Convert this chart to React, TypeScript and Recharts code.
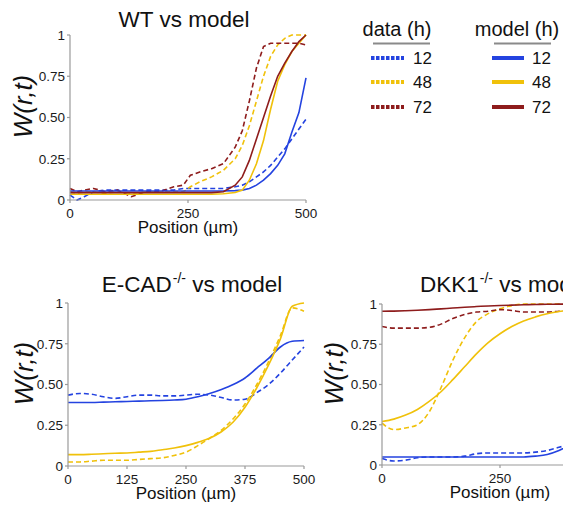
import { LineChart, Line, XAxis, YAxis } from "recharts";

const BLUE = "#2443e0";
const YELLOW = "#f0c10a";
const RED = "#8e1c1c";
const AXIS = "#9a9a9a";
const FONT = "'Liberation Sans', Arial, sans-serif";

const hours = ["12", "48", "72"];
const hourColors = [BLUE, YELLOW, RED];

// WT vs model
const wtPos = [0, 15, 30, 50, 75, 100, 130, 160, 190, 220, 240, 255, 275, 300, 325, 350, 365, 380, 395, 410, 425, 440, 455, 470, 485, 500];
const wtData12 = [0.03, 0.0, 0.02, 0.05, 0.06, 0.06, 0.06, 0.06, 0.06, 0.06, 0.07, 0.07, 0.07, 0.07, 0.07, 0.08, 0.09, 0.11, 0.14, 0.17, 0.21, 0.26, 0.31, 0.37, 0.43, 0.49];
const wtData48 = [0.05, 0.04, 0.05, 0.05, 0.04, 0.05, 0.04, 0.05, 0.05, 0.05, 0.05, 0.08, 0.11, 0.14, 0.18, 0.25, 0.33, 0.45, 0.6, 0.75, 0.87, 0.94, 0.98, 1.0, 1.0, 1.0];
const wtData72 = [0.07, 0.05, 0.06, 0.07, 0.05, 0.06, 0.02, 0.05, 0.05, 0.08, 0.09, 0.15, 0.17, 0.19, 0.22, 0.32, 0.42, 0.6, 0.8, 0.93, 0.95, 0.95, 0.95, 0.95, 0.95, 0.94];
const wtModel12 = [0.055, 0.055, 0.055, 0.055, 0.055, 0.055, 0.055, 0.055, 0.055, 0.055, 0.055, 0.055, 0.055, 0.055, 0.055, 0.057, 0.06, 0.07, 0.09, 0.12, 0.16, 0.21, 0.28, 0.41, 0.53, 0.74];
const wtModel48 = [0.035, 0.035, 0.035, 0.035, 0.035, 0.035, 0.035, 0.035, 0.035, 0.035, 0.035, 0.035, 0.035, 0.035, 0.038, 0.045, 0.06, 0.12, 0.22, 0.36, 0.55, 0.72, 0.82, 0.9, 0.95, 1.0];
const wtModel72 = [0.045, 0.045, 0.045, 0.045, 0.045, 0.045, 0.045, 0.045, 0.045, 0.045, 0.045, 0.045, 0.045, 0.045, 0.05, 0.09, 0.14, 0.24, 0.37, 0.5, 0.63, 0.75, 0.83, 0.9, 0.96, 1.0];

// E-CAD-/- vs model
const ecPos = [0, 25, 50, 75, 100, 125, 150, 175, 200, 225, 250, 275, 300, 325, 350, 375, 400, 425, 450, 475, 500];
const ecData12 = [0.435, 0.445, 0.44, 0.425, 0.415, 0.425, 0.435, 0.435, 0.43, 0.43, 0.435, 0.44, 0.435, 0.42, 0.405, 0.41, 0.45, 0.5, 0.57, 0.65, 0.73];
const ecData48 = [0.025, 0.025, 0.03, 0.035, 0.035, 0.035, 0.04, 0.045, 0.05, 0.065, 0.085, 0.125, 0.17, 0.22, 0.29, 0.38, 0.5, 0.64, 0.8, 0.97, 0.95];
const ecModel12 = [0.39, 0.39, 0.39, 0.392, 0.394, 0.396, 0.398, 0.4, 0.402, 0.405, 0.41, 0.425, 0.445, 0.47, 0.5, 0.54, 0.6, 0.66, 0.73, 0.765, 0.77];
const ecModel48 = [0.07, 0.07, 0.072, 0.075, 0.078, 0.08, 0.085, 0.09, 0.1, 0.11, 0.125, 0.145, 0.17, 0.21, 0.27, 0.36, 0.48, 0.62, 0.78, 0.98, 1.0];

// DKK1-/- vs model
const dkPos = [0, 25, 50, 75, 100, 125, 150, 175, 200, 225, 250, 275, 300, 325, 350, 375, 400, 450, 500];
const dkData12 = [0.04, 0.025, 0.03, 0.045, 0.05, 0.05, 0.05, 0.055, 0.07, 0.075, 0.075, 0.075, 0.075, 0.08, 0.09, 0.11, 0.13, 0.18, 0.25];
const dkData48 = [0.26, 0.22, 0.23, 0.25, 0.33, 0.48, 0.65, 0.79, 0.89, 0.94, 0.97, 0.99, 1.0, 1.0, 1.0, 1.0, 1.0, 1.0, 1.0];
const dkData72 = [0.86, 0.85, 0.85, 0.85, 0.855, 0.875, 0.91, 0.935, 0.95, 0.955, 0.965, 0.96, 0.95, 0.95, 0.95, 0.955, 0.96, 0.96, 0.96];
const dkModel12 = [0.05, 0.05, 0.05, 0.05, 0.05, 0.05, 0.05, 0.05, 0.05, 0.05, 0.05, 0.05, 0.05, 0.055, 0.065, 0.09, 0.125, 0.2, 0.3];
const dkModel48 = [0.27, 0.285, 0.31, 0.345, 0.395, 0.455, 0.53, 0.61, 0.69, 0.76, 0.815, 0.86, 0.895, 0.92, 0.94, 0.953, 0.963, 0.977, 0.987];
const dkModel72 = [0.955, 0.956, 0.958, 0.961, 0.965, 0.97, 0.975, 0.98, 0.984, 0.988, 0.991, 0.993, 0.995, 0.997, 0.998, 0.999, 1.0, 1.0, 1.0];

const yTicks = [0, 0.25, 0.5, 0.75, 1];

type Series = { key: string; values: number[]; color: string; dashed?: boolean };
type Plot = { left: number; right: number; top: number; bottom: number };

const fmtY = (v: number) => (v === 0 ? "0" : v === 1 ? "1" : v.toFixed(2));

function YLabel({ lx, ly }: any) {
  return (
    <text
      x={lx}
      y={ly}
      transform={`rotate(-90 ${lx} ${ly})`}
      textAnchor="middle"
      dominantBaseline="central"
      fontFamily={FONT}
      fontStyle="italic"
      fontSize={26}
      fill="#111"
    >
      W(r,t)
    </text>
  );
}

function XLabel({ lx, ly }: any) {
  return (
    <text x={lx} y={ly} textAnchor="middle" fontFamily={FONT} fontSize={17} fill="#111">
      Position (µm)
    </text>
  );
}

function Panel({
  positions,
  series,
  xTicks,
  plot,
  curve,
  ylx,
  width,
}: {
  positions: number[];
  series: Series[];
  xTicks: number[];
  plot: Plot;
  curve: "linear" | "monotone";
  ylx: number;
  width: number;
}) {
  const rows = positions.map((x, i) => {
    const row: Record<string, number> = { x };
    series.forEach((s) => (row[s.key] = s.values[i]));
    return row;
  });
  const yW = 60;
  const xH = 40;
  const mid = (plot.left + plot.right) / 2;
  return (
    <div style={{ position: "absolute", left: 0, top: 0 }}>
      <LineChart
        width={width}
        height={512}
        data={rows}
        margin={{ left: plot.left - yW, right: width - plot.right, top: plot.top, bottom: 512 - plot.bottom - xH }}
      >
        <XAxis
          type="number"
          dataKey="x"
          domain={[0, 500]}
          ticks={xTicks}
          interval={0}
          height={xH}
          tickSize={3}
          tickMargin={5}
          stroke={AXIS}
          strokeWidth={1.2}
          tick={{ fill: "#1a1a1a", fontSize: 13.5, fontFamily: FONT }}
          label={<XLabel lx={mid} ly={plot.bottom + 33} />}
        />
        <YAxis
          type="number"
          domain={[0, 1]}
          ticks={yTicks}
          interval={0}
          width={yW}
          tickSize={3}
          tickMargin={2}
          stroke={AXIS}
          strokeWidth={1.2}
          tickFormatter={fmtY}
          tick={{ fill: "#1a1a1a", fontSize: 13.5, fontFamily: FONT }}
          label={<YLabel lx={ylx} ly={(plot.top + plot.bottom) / 2 - 11} />}
        />
        {series.map((s) => (
          <Line
            key={s.key}
            type={curve}
            dataKey={s.key}
            stroke={s.color}
            strokeWidth={1.6}
            strokeDasharray={s.dashed ? "5 3" : undefined}
            dot={false}
            activeDot={false}
            isAnimationActive={false}
          />
        ))}
      </LineChart>
    </div>
  );
}

function Title({ name, sup, left, width, cy, align }: { name: string; sup?: string; left: number; width: number; cy: number; align: "center" | "left" }) {
  return (
    <div
      style={{
        position: "absolute",
        left,
        top: cy - 12,
        width,
        textAlign: align,
        fontFamily: FONT,
        fontSize: 22.5,
        lineHeight: "24px",
        color: "#111",
        whiteSpace: "nowrap",
      }}
    >
      {name}
      {sup && <sup style={{ fontSize: 14, verticalAlign: "9px", lineHeight: 0, marginLeft: 1 }}>{sup}</sup>}
      {" vs model"}
    </div>
  );
}

function Legend() {
  const rowsY = [58, 82, 107];
  return (
    <svg width={563} height={130} style={{ position: "absolute", left: 0, top: 0 }}>
      <g fontFamily={FONT} fill="#111">
        <text x={397} y={36} fontSize={20} textAnchor="middle">data (h)</text>
        <text x={517} y={36} fontSize={20} textAnchor="middle">model (h)</text>
      </g>
      <line x1={373} x2={430} y1={43.5} y2={43.5} stroke="#8a8a8a" strokeWidth={2} />
      <line x1={494} x2={551} y1={43.5} y2={43.5} stroke="#8a8a8a" strokeWidth={2} />
      {hours.map((h, i) => (
        <g key={h}>
          <line x1={371} x2={404} y1={rowsY[i]} y2={rowsY[i]} stroke={hourColors[i]} strokeWidth={4} strokeDasharray="3.5 1.5" />
          <text x={413} y={rowsY[i] + 6} fontSize={17} fontFamily={FONT} fill="#111">{h}</text>
          <line x1={492} x2={524} y1={rowsY[i]} y2={rowsY[i]} stroke={hourColors[i]} strokeWidth={4} />
          <text x={532} y={rowsY[i] + 6} fontSize={17} fontFamily={FONT} fill="#111">{h}</text>
        </g>
      ))}
    </svg>
  );
}

export default function App() {
  const wtSeries: Series[] = [
    { key: "d12", values: wtData12, color: BLUE, dashed: true },
    { key: "d48", values: wtData48, color: YELLOW, dashed: true },
    { key: "d72", values: wtData72, color: RED, dashed: true },
    { key: "m12", values: wtModel12, color: BLUE },
    { key: "m48", values: wtModel48, color: YELLOW },
    { key: "m72", values: wtModel72, color: RED },
  ];
  const ecSeries: Series[] = [
    { key: "d12", values: ecData12, color: BLUE, dashed: true },
    { key: "d48", values: ecData48, color: YELLOW, dashed: true },
    { key: "m12", values: ecModel12, color: BLUE },
    { key: "m48", values: ecModel48, color: YELLOW },
  ];
  const dkSeries: Series[] = [
    { key: "d12", values: dkData12, color: BLUE, dashed: true },
    { key: "d48", values: dkData48, color: YELLOW, dashed: true },
    { key: "d72", values: dkData72, color: RED, dashed: true },
    { key: "m12", values: dkModel12, color: BLUE },
    { key: "m48", values: dkModel48, color: YELLOW },
    { key: "m72", values: dkModel72, color: RED },
  ];
  return (
    <div
      style={{
        position: "absolute",
        left: 0,
        top: 0,
        width: 563,
        height: 512,
        overflow: "hidden",
        background: "#fff",
      }}
    >
      <Panel positions={wtPos} series={wtSeries} xTicks={[0, 250, 500]} plot={{ left: 70, right: 306, top: 35, bottom: 200 }} curve="linear" ylx={23} width={330} />
      <Panel positions={ecPos} series={ecSeries} xTicks={[0, 125, 250, 375, 500]} plot={{ left: 68, right: 304, top: 303, bottom: 466 }} curve="monotone" ylx={24} width={330} />
      <Panel positions={dkPos} series={dkSeries} xTicks={[0, 250, 500]} plot={{ left: 382, right: 618, top: 304, bottom: 465 }} curve="monotone" ylx={334} width={650} />
      <Title name="WT" left={64} width={240} cy={20} align="center" />
      <Title name="E-CAD" sup="-/-" left={72} width={240} cy={285} align="center" />
      <Title name="DKK1" sup="-/-" left={420} width={240} cy={285} align="left" />
      <Legend />
    </div>
  );
}
